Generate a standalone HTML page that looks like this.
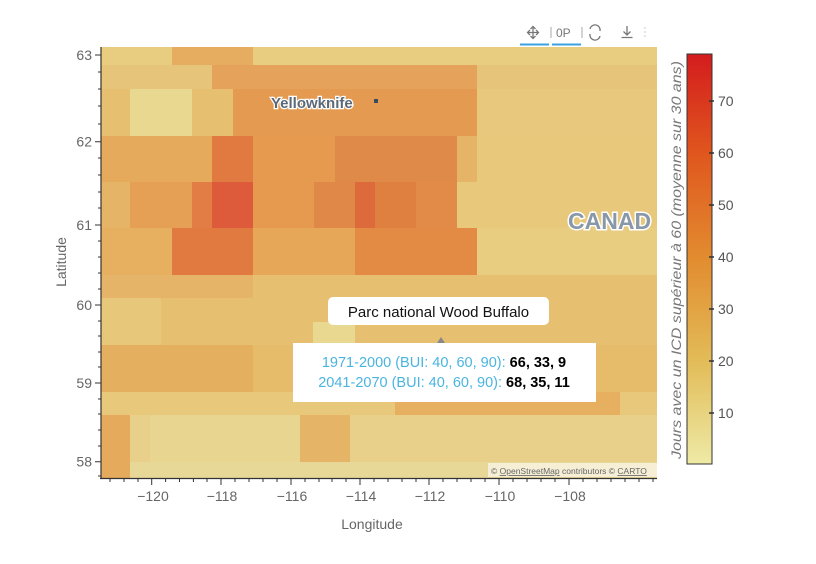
<!DOCTYPE html>
<html><head><meta charset="utf-8"><style>
html,body{margin:0;padding:0;background:#fff;}
svg text{font-family:"Liberation Sans",sans-serif;}
</style></head><body>
<svg width="816" height="559" viewBox="0 0 816 559" xmlns="http://www.w3.org/2000/svg">
<defs>
<clipPath id="pc"><rect x="101" y="47" width="556" height="431"/></clipPath>
<linearGradient id="cb" x1="0" y1="0" x2="0" y2="1">
<stop offset="0" stop-color="#d41c1e"/>
<stop offset="0.25" stop-color="#e0581e"/>
<stop offset="0.5" stop-color="#e28c30"/>
<stop offset="0.75" stop-color="#e2bc58"/>
<stop offset="1" stop-color="#eeeaa6"/>
</linearGradient>
</defs>
<g clip-path="url(#pc)">
<rect x="101" y="47" width="556" height="431" fill="#e6c070"/>
<rect x="101" y="42" width="556" height="23" fill="#e8cc80"/>
<rect x="172" y="42" width="81" height="23" fill="#e6ad60"/>
<rect x="101" y="65" width="556" height="24" fill="#e6c47a"/>
<rect x="212" y="65" width="265" height="24" fill="#e4a25a"/>
<rect x="101" y="89" width="556" height="47" fill="#e6c070"/>
<rect x="130" y="89" width="62" height="47" fill="#e8d890"/>
<rect x="233" y="89" width="244" height="47" fill="#e49a50"/>
<rect x="477" y="89" width="180" height="47" fill="#e7c87c"/>
<rect x="101" y="136" width="111" height="46" fill="#e5aa5c"/>
<rect x="212" y="136" width="41" height="46" fill="#e07a40"/>
<rect x="253" y="136" width="82" height="46" fill="#e59a50"/>
<rect x="335" y="136" width="122" height="46" fill="#df8a48"/>
<rect x="457" y="136" width="20" height="46" fill="#e6b466"/>
<rect x="477" y="136" width="180" height="46" fill="#e8c87a"/>
<rect x="101" y="182" width="29" height="46" fill="#e6b466"/>
<rect x="130" y="182" width="62" height="46" fill="#e5a055"/>
<rect x="192" y="182" width="20" height="46" fill="#e27e45"/>
<rect x="212" y="182" width="41" height="46" fill="#dd5a3a"/>
<rect x="253" y="182" width="61" height="46" fill="#e59a50"/>
<rect x="314" y="182" width="41" height="46" fill="#df8848"/>
<rect x="355" y="182" width="20" height="46" fill="#dd6a3a"/>
<rect x="375" y="182" width="41" height="46" fill="#e08040"/>
<rect x="416" y="182" width="41" height="46" fill="#e28a48"/>
<rect x="457" y="182" width="200" height="46" fill="#e8c87a"/>
<rect x="101" y="228" width="71" height="47" fill="#e6b060"/>
<rect x="172" y="228" width="81" height="47" fill="#e07a40"/>
<rect x="253" y="228" width="102" height="47" fill="#e6a858"/>
<rect x="355" y="228" width="122" height="47" fill="#e38a45"/>
<rect x="477" y="228" width="180" height="47" fill="#e8cc80"/>
<rect x="101" y="275" width="152" height="23" fill="#e6b468"/>
<rect x="313" y="322" width="42" height="23" fill="#e8d890"/>
<rect x="101" y="298" width="60" height="47" fill="#e7c87a"/>
<rect x="101" y="345" width="556" height="47" fill="#e6bc6a"/>
<rect x="101" y="345" width="152" height="47" fill="#e4b060"/>
<rect x="101" y="392" width="556" height="23" fill="#e8c87a"/>
<rect x="395" y="392" width="225" height="23" fill="#e6b060"/>
<rect x="101" y="415" width="556" height="47" fill="#e8d08a"/>
<rect x="101" y="415" width="29" height="47" fill="#e6aa5c"/>
<rect x="150" y="415" width="150" height="47" fill="#e8d590"/>
<rect x="300" y="415" width="50" height="47" fill="#e6b466"/>
<rect x="101" y="462" width="556" height="16" fill="#e8d898"/>
<rect x="101" y="462" width="29" height="16" fill="#e6aa5c"/>
</g>
<text x="271" y="108" font-size="15" font-weight="bold" fill="#5a6878" stroke="#fff" stroke-width="2.5" paint-order="stroke">Yellowknife</text>
<rect x="374" y="99" width="4" height="4" fill="#3a4a5a"/>
<text x="568" y="229" font-size="23" font-weight="bold" fill="#8898a8" stroke="#fff" stroke-width="3" paint-order="stroke">CANAD</text>
<rect x="488" y="463" width="169" height="14" fill="#fff" fill-opacity="0.6"/>
<text x="491" y="474" font-size="8.5" fill="#666">© <tspan text-decoration="underline">OpenStreetMap</tspan> contributors © <tspan text-decoration="underline">CARTO</tspan></text>
<rect x="328" y="297" width="221" height="28" rx="5" fill="#fff"/>
<text x="438.5" y="317" font-size="15" text-anchor="middle" fill="#111">Parc national Wood Buffalo</text>
<polygon points="437,343 441,337 445,343" fill="#888"/>
<rect x="293" y="343" width="303" height="59" fill="#fff"/>
<text x="444" y="367" font-size="14.5" text-anchor="middle"><tspan fill="#4ab4e0">1971-2000 (BUI: 40, 60, 90):</tspan><tspan fill="#000" font-weight="bold"> 66, 33, 9</tspan></text>
<text x="444" y="387" font-size="14.5" text-anchor="middle"><tspan fill="#4ab4e0">2041-2070 (BUI: 40, 60, 90):</tspan><tspan fill="#000" font-weight="bold"> 68, 35, 11</tspan></text>
<line x1="101" y1="47" x2="101" y2="479" stroke="#333" stroke-width="1.2"/>
<line x1="100" y1="478.5" x2="657" y2="478.5" stroke="#333" stroke-width="1.2"/>
<g stroke="#333" stroke-width="1">
<path d="M95 55H101M95 141.7H101M95 225H101M95 305H101M95 383H101M95 461.7H101"/>
<path d="M98 72H101M98 89H101M98 106H101M98 124H101M98 158H101M98 175H101M98 192H101M98 208H101M98 241H101M98 257H101M98 273H101M98 289H101M98 321H101M98 336H101M98 352H101M98 367H101M98 399H101M98 414H101M98 430H101M98 446H101M98 476H101"/>
<path d="M151.7 478V485M221 478V485M291 478V485M360 478V485M429 478V485M499 478V485M569 478V485"/>
<path d="M110 478V482M124 478V482M138 478V482M165.6 478V482M179.5 478V482M193.4 478V482M207 478V482M235 478V482M249 478V482M263 478V482M277 478V482M305 478V482M319 478V482M332 478V482M346 478V482M374 478V482M388 478V482M402 478V482M416 478V482M443 478V482M457 478V482M471 478V482M485 478V482M513 478V482M527 478V482M541 478V482M555 478V482M583 478V482M597 478V482M611 478V482M625 478V482M639 478V482M653 478V482"/>
</g>
<g font-size="14" fill="#666" text-anchor="end">
<text x="92" y="60">63</text><text x="92" y="146.7">62</text><text x="92" y="230">61</text><text x="92" y="310">60</text><text x="92" y="388">59</text><text x="92" y="466.7">58</text>
</g>
<g font-size="14" fill="#666" text-anchor="middle">
<text x="153" y="501">−120</text><text x="222" y="501">−118</text><text x="292" y="501">−116</text><text x="361" y="501">−114</text><text x="430" y="501">−112</text><text x="500" y="501">−110</text><text x="570" y="501">−108</text>
</g>
<text x="372" y="529" font-size="14" fill="#666" text-anchor="middle">Longitude</text>
<text transform="translate(66,262) rotate(-90)" font-size="14" fill="#666" text-anchor="middle">Latitude</text>
<rect x="687" y="54" width="25" height="410" fill="url(#cb)" stroke="#333" stroke-width="1"/>
<g stroke="#333" stroke-width="1.5">
<path d="M709 101H714M709 153H714M709 205H714M709 257H714M709 309H714M709 361H714M709 413H714"/>
</g>
<g font-size="14" fill="#555">
<text x="718" y="106">70</text><text x="718" y="158">60</text><text x="718" y="210">50</text><text x="718" y="262">40</text><text x="718" y="314">30</text><text x="718" y="366">20</text><text x="718" y="418">10</text>
</g>
<text transform="translate(681,260) rotate(-90)" font-size="14" font-style="italic" fill="#777" text-anchor="middle" textLength="398" lengthAdjust="spacingAndGlyphs">Jours avec un ICD supérieur à 60 (moyenne sur 30 ans)</text>
<g fill="none" stroke="#777" stroke-width="1.3">
<path d="M533 27V38M527.5 32.5H538.5"/>
<path d="M530.5 29L533 26.5L535.5 29M530.5 36L533 38.5L535.5 36M530 30L527.5 32.5L530 35M536 30L538.5 32.5L536 35"/>
<path d="M590 29A5 5 0 0 1 600 31M600 36A5 5 0 0 1 590 34"/>
<path d="M627 26V35M623.5 31.5L627 35L630.5 31.5M621.5 37.5H632.5"/>
</g>
<text x="556" y="37" font-size="12" fill="#777">0P</text>
<line x1="551" y1="27" x2="551" y2="38" stroke="#aaa"/>
<line x1="582" y1="27" x2="582" y2="38" stroke="#aaa"/>
<line x1="645" y1="27" x2="645" y2="38" stroke="#ccc" stroke-dasharray="2,2"/>
<rect x="520" y="43.5" width="29" height="2" fill="#3aa0e0"/>
<rect x="552" y="43.5" width="29" height="2" fill="#3aa0e0"/>
</svg>
</body></html>
